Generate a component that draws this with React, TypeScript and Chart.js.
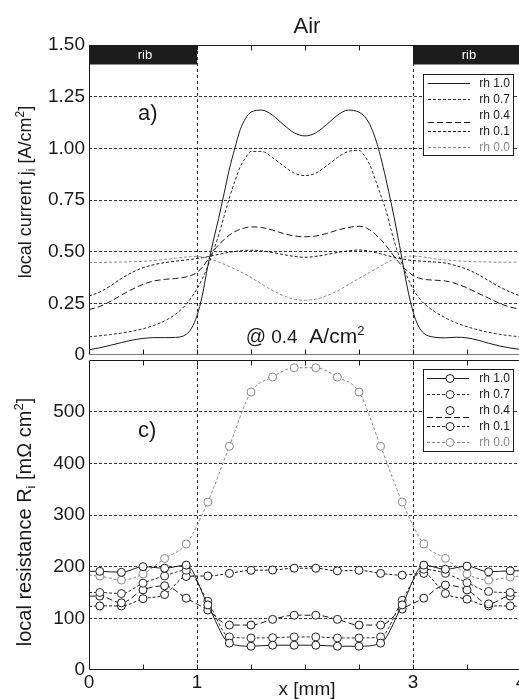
import React, { useEffect, useRef } from 'react';
import { Chart, registerables } from 'chart.js';

Chart.register(...registerables);

const FONT = '"Liberation Sans", Arial, Helvetica, sans-serif';
const INK = '#1a1a1a';
const GRAY = '#8a8a8a';
Chart.defaults.font.family = FONT;

// ---------------- data ----------------
const seriesLabels = ['rh 1.0', 'rh 0.7', 'rh 0.4', 'rh 0.1', 'rh 0.0'];

// panel a) local current [A/cm2]
const xTop = [
  0, 0.1, 0.2, 0.3, 0.4, 0.5, 0.6, 0.7, 0.8, 0.9,
  0.95, 1.0, 1.05, 1.1, 1.15, 1.2, 1.25, 1.3, 1.35, 1.4, 1.45, 1.5,
  1.6, 1.7, 1.8, 1.9, 2.0, 2.1, 2.2, 2.3, 2.4, 2.5,
  2.55, 2.6, 2.65, 2.7, 2.75, 2.8, 2.85, 2.9, 2.95, 3.0, 3.05,
  3.1, 3.2, 3.3, 3.4, 3.5, 3.6, 3.7, 3.8, 3.9, 4.0,
];
const jRh10 = [
  0.025, 0.035, 0.047, 0.06, 0.072, 0.08, 0.084, 0.084, 0.085, 0.1,
  0.13, 0.19, 0.29, 0.43, 0.55, 0.66, 0.78, 0.9, 1.0, 1.09, 1.145, 1.175,
  1.185, 1.16, 1.115, 1.075, 1.06, 1.075, 1.115, 1.16, 1.185, 1.175,
  1.155, 1.115, 1.05, 0.96, 0.85, 0.73, 0.6, 0.46, 0.32, 0.21, 0.14,
  0.105, 0.086, 0.083, 0.086, 0.083, 0.072, 0.057, 0.044, 0.034, 0.026,
];
const jRh07 = [
  0.088, 0.093, 0.099, 0.106, 0.115, 0.127, 0.143, 0.165, 0.197, 0.245,
  0.28, 0.32, 0.37, 0.43, 0.5, 0.58, 0.67, 0.76, 0.84, 0.91, 0.955, 0.985,
  0.985, 0.955, 0.915, 0.88, 0.868, 0.88, 0.915, 0.955, 0.985, 0.99,
  0.965, 0.92, 0.85, 0.775, 0.7, 0.6, 0.51, 0.44, 0.375, 0.32, 0.28,
  0.25, 0.21, 0.18, 0.155, 0.137, 0.122, 0.11, 0.1, 0.093, 0.088,
];
const jRh04 = [
  0.22, 0.235, 0.26, 0.29, 0.318, 0.342, 0.358, 0.366, 0.37, 0.378,
  0.386, 0.4, 0.425, 0.46, 0.5, 0.533, 0.558, 0.58, 0.597, 0.608, 0.616, 0.62,
  0.617, 0.604, 0.588, 0.576, 0.572, 0.576, 0.588, 0.604, 0.617, 0.623,
  0.618, 0.605, 0.585, 0.56, 0.53, 0.495, 0.46, 0.43, 0.405, 0.385, 0.373,
  0.366, 0.362, 0.358, 0.345, 0.325, 0.3, 0.275, 0.25, 0.232, 0.22,
];
const jRh01 = [
  0.285, 0.305, 0.335, 0.37, 0.4, 0.422, 0.437, 0.447, 0.454, 0.46,
  0.463, 0.467, 0.471, 0.476, 0.481, 0.487, 0.492, 0.497, 0.501, 0.504, 0.506, 0.507,
  0.504, 0.496, 0.486, 0.477, 0.473, 0.477, 0.486, 0.496, 0.504, 0.508,
  0.506, 0.502, 0.496, 0.49, 0.483, 0.476, 0.47, 0.465, 0.46, 0.457, 0.455,
  0.453, 0.45, 0.445, 0.432, 0.415, 0.39, 0.36, 0.33, 0.305, 0.285,
];
const jRh00 = [
  0.448, 0.448, 0.449, 0.45, 0.451, 0.453, 0.457, 0.462, 0.468, 0.474,
  0.476, 0.477, 0.474, 0.468, 0.46, 0.45, 0.44, 0.428, 0.416, 0.403, 0.39, 0.375,
  0.343, 0.312, 0.287, 0.27, 0.265, 0.27, 0.287, 0.31, 0.34, 0.37,
  0.385, 0.4, 0.415, 0.43, 0.445, 0.458, 0.468, 0.474, 0.478, 0.479, 0.477,
  0.474, 0.466, 0.46, 0.456, 0.453, 0.451, 0.45, 0.449, 0.449, 0.449,
];

// panel c) local resistance [mOhm cm2]; first/last entries are the curve ends (no marker)
const xRes = [0, 0.1, 0.3, 0.5, 0.7, 0.9, 1.1, 1.3, 1.5, 1.7, 1.9, 2.1, 2.3, 2.5, 2.7, 2.9, 3.1, 3.3, 3.5, 3.7, 3.9, 4];
const rRh10 = [191, 191, 189, 200, 197, 203, 126, 52, 46, 48, 48, 48, 46, 46, 52, 126, 203, 195, 201, 190, 192, 192];
const rRh07 = [150, 150, 148, 168, 182, 193, 133, 64, 62, 62.5, 64, 64, 62, 62, 64, 135, 195, 187, 169, 152, 150, 150];
const rRh04 = [143, 143, 130, 155, 163, 139, 116, 87, 87, 98, 106, 106, 98, 87, 87, 118, 139, 164.5, 155, 128, 143, 143];
const rRh01 = [123, 124, 124, 138, 146, 181, 182, 187, 193, 193.5, 197, 197, 192, 193, 187, 183.5, 187, 148, 137, 124, 124, 123];
const rRh00 = [184, 182, 174, 186, 216, 244, 325, 433, 538, 567, 585, 585, 567, 538, 433, 325, 244, 216, 186, 174, 180, 182];

const xTickLabels = [0, 1, 3, 4];
const xTickMarks = [0.5, 1, 1.5, 2, 2.5, 3, 3.5];
const xGridLines = [1, 3];
const ribs: [number, number][] = [[0, 1], [3, 4]];
const jMin = 0, jMax = 1.5, jStep = 0.25;
const rMin = 0, rMax = 600, rStep = 100;

// ---------------- styles ----------------
const MARKER_R = 4;
const styles = [
  { color: INK, dash: [] as number[], legendDy: 0, text: INK },
  { color: '#2e2e2e', dash: [3, 2], legendDy: 0, text: INK },
  { color: INK, dash: [6, 3], legendDy: 7, text: INK },
  { color: INK, dash: [3, 2], legendDy: 0, text: INK },
  { color: GRAY, dash: [3, 2], legendDy: 0, text: GRAY },
];

type Part = { t: string; s: number; dy?: number };

function drawRich(ctx: CanvasRenderingContext2D, parts: Part[], cx: number, baseline: number) {
  let total = 0;
  for (const p of parts) {
    ctx.font = `${p.s}px ${FONT}`;
    total += ctx.measureText(p.t).width;
  }
  let x = cx - total / 2;
  ctx.textAlign = 'left';
  ctx.textBaseline = 'alphabetic';
  for (const p of parts) {
    ctx.font = `${p.s}px ${FONT}`;
    ctx.fillText(p.t, x, baseline + (p.dy || 0));
    x += ctx.measureText(p.t).width;
  }
}

type Decor = {
  ribs?: boolean;
  title?: string;
  note?: boolean;
  xTitle?: boolean;
  panelLabel: string;
  panelLabelPos: [number, number];
  yTitle: Part[];
  yTitlePos: [number, number];
  legendDy: number;
  legendH: number;
  legendFirst: number;
  markers: boolean;
  bottomBorder: string;
};

function makeDecor(d: Decor) {
  return {
    id: 'decor',
    afterDraw(chart: any) {
      const { ctx, chartArea: a, scales } = chart;
      const xs = scales.x;
      ctx.save();
      ctx.setLineDash([]);

      // rib bars
      if (d.ribs) {
        for (const [r0, r1] of ribs) {
          const x0 = xs.getPixelForValue(r0);
          const x1 = xs.getPixelForValue(r1);
          ctx.fillStyle = '#1c1c1c';
          ctx.fillRect(x0, a.top, x1 - x0, 19.5);
          ctx.fillStyle = '#ffffff';
          ctx.font = `13px ${FONT}`;
          ctx.textAlign = 'center';
          ctx.textBaseline = 'middle';
          ctx.fillText('rib', (x0 + x1) / 2 + 2, a.top + 10.5);
        }
      }

      // frame
      const L = Math.round(a.left) + 0.5;
      const R = Math.round(a.right) - 0.5;
      const T = Math.round(a.top) + 0.5;
      const B = Math.round(a.bottom) - 0.5;
      ctx.lineWidth = 1;
      ctx.strokeStyle = INK;
      ctx.beginPath();
      ctx.moveTo(L, B); ctx.lineTo(L, T); ctx.lineTo(R, T); ctx.lineTo(R, B);
      ctx.stroke();
      ctx.strokeStyle = d.bottomBorder;
      ctx.beginPath();
      ctx.moveTo(L, B); ctx.lineTo(R, B);
      ctx.stroke();

      // inner tick marks
      ctx.strokeStyle = INK;
      for (const v of xTickMarks) {
        const px = Math.round(xs.getPixelForValue(v)) + 0.5;
        ctx.beginPath();
        ctx.moveTo(px, T); ctx.lineTo(px, T + 5);
        ctx.moveTo(px, B); ctx.lineTo(px, B - 5);
        ctx.stroke();
      }

      // legend
      const bx = Math.round(a.right) - 98;
      const by = Math.round(a.top) + d.legendDy;
      ctx.fillStyle = '#ffffff';
      ctx.fillRect(bx, by, 90, d.legendH);
      ctx.strokeStyle = INK;
      ctx.strokeRect(bx + 0.5, by + 0.5, 90, d.legendH);
      chart.data.datasets.forEach((ds: any, i: number) => {
        const st = styles[i];
        const ry = by + d.legendFirst + i * 16;
        const ly = Math.round(ry + st.legendDy) + 0.5;
        ctx.strokeStyle = st.color;
        ctx.setLineDash(st.dash);
        ctx.beginPath();
        if (d.markers) {
          ctx.moveTo(bx + 4, ly); ctx.lineTo(bx + 46, ly);
        } else {
          ctx.moveTo(bx + 5, ly); ctx.lineTo(bx + 47, ly);
        }
        ctx.stroke();
        ctx.setLineDash([]);
        if (d.markers) {
          ctx.beginPath();
          ctx.arc(bx + 27, ry + 0.5, MARKER_R, 0, Math.PI * 2);
          ctx.fillStyle = '#ffffff';
          ctx.fill();
          ctx.strokeStyle = st.color;
          ctx.stroke();
        }
        ctx.fillStyle = st.text;
        ctx.font = `12px ${FONT}`;
        ctx.textAlign = 'right';
        ctx.textBaseline = 'middle';
        ctx.fillText(ds.label, bx + 87, ry + 1);
      });

      // panel label
      ctx.fillStyle = INK;
      ctx.font = `22px ${FONT}`;
      ctx.textAlign = 'left';
      ctx.textBaseline = 'alphabetic';
      ctx.fillText(d.panelLabel, a.left + d.panelLabelPos[0], a.top + d.panelLabelPos[1]);

      // title
      if (d.title) {
        ctx.font = `22px ${FONT}`;
        ctx.textAlign = 'center';
        ctx.fillText(d.title, (a.left + a.right) / 2 + 2, 33);
      }

      // operating point note
      if (d.note) {
        drawRich(ctx, [
          { t: '@', s: 20 },
          { t: ' 0.4', s: 19 },
          { t: '  A/cm', s: 21 },
          { t: '2', s: 13, dy: -8 },
        ], 305, a.bottom - 12);
      }

      // x axis title
      if (d.xTitle) {
        ctx.fillStyle = INK;
        ctx.font = `19px ${FONT}`;
        ctx.textAlign = 'center';
        ctx.textBaseline = 'alphabetic';
        ctx.fillText('x [mm]', (a.left + a.right) / 2 + 2, a.bottom + 25);
      }

      // y axis title (rotated)
      ctx.save();
      ctx.translate(d.yTitlePos[0], d.yTitlePos[1]);
      ctx.rotate(-Math.PI / 2);
      ctx.fillStyle = INK;
      drawRich(ctx, d.yTitle, 0, 0);
      ctx.restore();

      ctx.restore();
    },
  };
}

function gridColor(hidden: number[]) {
  return (c: any) => (hidden.includes(c.tick.value) ? 'rgba(0,0,0,0)' : '#3a3a3a');
}

function noOverhang(s: any) {
  s.paddingTop = 0;
  s.paddingBottom = 0;
  s.paddingLeft = 0;
  s.paddingRight = 0;
}

export default function App() {
  const topRef = useRef<HTMLCanvasElement>(null);
  const botRef = useRef<HTMLCanvasElement>(null);

  useEffect(() => {
    const jSeries = [jRh10, jRh07, jRh04, jRh01, jRh00];
    const rSeries = [rRh10, rRh07, rRh04, rRh01, rRh00];

    const xScaleBase = (height: number, showLabels: boolean) => ({
      type: 'linear' as const,
      min: 0,
      max: 4,
      afterFit: (s: any) => { s.height = height; noOverhang(s); },
      ticks: {
        display: showLabels,
        stepSize: 1,
        autoSkip: false,
        maxRotation: 0,
        padding: 1,
        color: INK,
        font: { size: 19, family: FONT },
        callback: (v: any) => (xTickLabels.includes(Number(v)) ? String(v) : ''),
      },
      grid: {
        color: (c: any) => (xGridLines.includes(c.tick.value) ? '#2a2a2a' : 'rgba(0,0,0,0)'),
        drawTicks: false,
        lineWidth: 1,
      },
      border: { display: false, dash: [3, 3] },
    });

    const top = new Chart(topRef.current as HTMLCanvasElement, {
      type: 'line',
      data: {
        datasets: jSeries.map((vals, i) => ({
          label: seriesLabels[i],
          data: xTop.map((x, k) => ({ x, y: vals[k] })),
          borderColor: styles[i].color,
          borderDash: styles[i].dash,
          borderWidth: 1,
          pointRadius: 0,
          cubicInterpolationMode: 'monotone' as const,
          fill: false,
        })),
      },
      options: {
        responsive: false,
        animation: false,
        devicePixelRatio: 1,
        events: [],
        layout: { autoPadding: false, padding: { left: 0, right: 9, top: 45, bottom: 17 } },
        plugins: { legend: { display: false }, tooltip: { enabled: false } },
        scales: {
          x: xScaleBase(0, false) as any,
          y: {
            min: jMin,
            max: jMax,
            afterFit: (s: any) => { s.width = 89; noOverhang(s); },
            ticks: {
              stepSize: jStep,
              padding: 4,
              color: INK,
              font: { size: 19, family: FONT },
              callback: (v: any) => (Number(v) === 0 ? '0' : Number(v).toFixed(2)),
            },
            grid: { color: gridColor([jMin, jMax]), drawTicks: false, lineWidth: 1 },
            border: { display: false, dash: [3, 2] },
          } as any,
        },
      } as any,
      plugins: [makeDecor({
        ribs: true,
        title: 'Air',
        note: true,
        panelLabel: 'a)',
        panelLabelPos: [49, 75],
        yTitle: [
          { t: 'local current j', s: 18 },
          { t: 'i', s: 12, dy: 4 },
          { t: ' [A/cm', s: 18 },
          { t: '2', s: 12, dy: -7 },
          { t: ']', s: 18 },
        ],
        yTitlePos: [31, 192],
        legendDy: 29,
        legendH: 81,
        legendFirst: 9,
        markers: false,
        bottomBorder: '#7a7a7a',
      })],
    });

    const bot = new Chart(botRef.current as HTMLCanvasElement, {
      type: 'line',
      data: {
        datasets: rSeries.map((vals, i) => ({
          label: seriesLabels[i],
          data: xRes.map((x, k) => ({ x, y: vals[k] })),
          borderColor: styles[i].color,
          borderDash: styles[i].dash,
          borderWidth: 1,
          pointRadius: (c: any) => (c.dataIndex === 0 || c.dataIndex === xRes.length - 1 ? 0 : MARKER_R),
          pointBackgroundColor: '#ffffff',
          pointBorderColor: styles[i].color,
          pointBorderWidth: 1,
          cubicInterpolationMode: 'monotone' as const,
          fill: false,
        })),
      },
      options: {
        responsive: false,
        animation: false,
        devicePixelRatio: 1,
        events: [],
        layout: { autoPadding: false, padding: { left: 0, right: 9, top: 3, bottom: 0 } },
        plugins: { legend: { display: false }, tooltip: { enabled: false } },
        scales: {
          x: xScaleBase(29, true) as any,
          y: {
            min: rMin,
            max: rMax,
            afterFit: (s: any) => { s.width = 89; noOverhang(s); },
            ticks: {
              stepSize: rStep,
              padding: 4,
              color: INK,
              font: { size: 19, family: FONT },
              callback: (v: any) => (Number(v) === rMax ? '' : String(v)),
            },
            grid: { color: gridColor([rMin, rMax]), drawTicks: false, lineWidth: 1 },
            border: { display: false, dash: [3, 2] },
          } as any,
        },
      } as any,
      plugins: [makeDecor({
        xTitle: true,
        panelLabel: 'c)',
        panelLabelPos: [49, 77],
        yTitle: [
          { t: 'local resistance R', s: 20 },
          { t: 'i', s: 13, dy: 4 },
          { t: ' [m\u03A9 cm', s: 20 },
          { t: '2', s: 13, dy: -8 },
          { t: ']', s: 20 },
        ],
        yTitlePos: [31, 165],
        legendDy: 9,
        legendH: 82,
        legendFirst: 9,
        markers: true,
        bottomBorder: INK,
      })],
    });

    return () => {
      top.destroy();
      bot.destroy();
    };
  }, []);

  return (
    <div style={{ position: 'fixed', left: 0, top: 0, width: 519, height: 699, overflow: 'hidden', background: '#ffffff' }}>
      <canvas ref={topRef} width={530} height={372} style={{ position: 'absolute', left: 0, top: 0, width: 530, height: 372 }} />
      <canvas ref={botRef} width={530} height={342} style={{ position: 'absolute', left: 0, top: 357, width: 530, height: 342 }} />
    </div>
  );
}
